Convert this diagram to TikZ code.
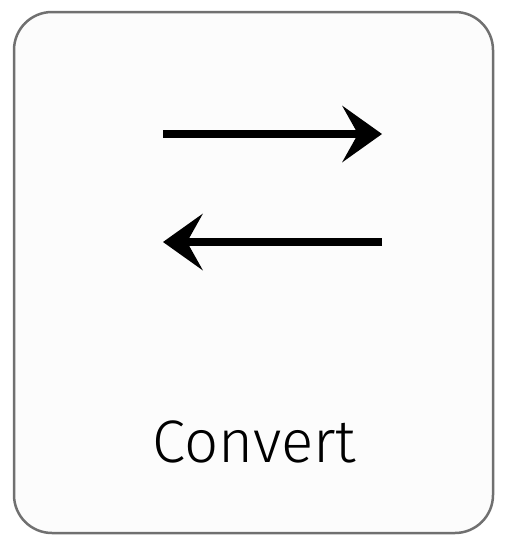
\documentclass[tikz,border=0pt]{standalone}
\usepackage{fontspec}
\setmainfont{Fira Sans Light}
\usetikzlibrary{arrows.meta}
\definecolor{frame}{HTML}{707070}
\definecolor{card}{HTML}{FCFCFC}
\begin{document}
\begin{tikzpicture}[x=1pt,y=-1pt,
  cardbox/.style={draw=frame,fill=card,line width=2.5pt,rounded corners=38pt},
  swaparrow/.style={line width=8pt,-{Stealth[length=40pt,width=57pt,inset=16pt,line width=0pt]}},
  lbl/.style={font=\fontsize{60}{70}\selectfont,text=black,inner sep=0pt,anchor=base}]
\useasboundingbox (0,0) rectangle (522,547);
\draw[cardbox] (14,12) rectangle (493,533);
\coordinate (a1) at (163,134);
\coordinate (b1) at (382,134);
\coordinate (a2) at (382,242);
\coordinate (b2) at (163,242);
\draw[swaparrow] (a1) -- (b1);
\draw[swaparrow] (a2) -- (b2);
\node[lbl] (label) at (254.5,462) {Convert};
\end{tikzpicture}
\end{document}
